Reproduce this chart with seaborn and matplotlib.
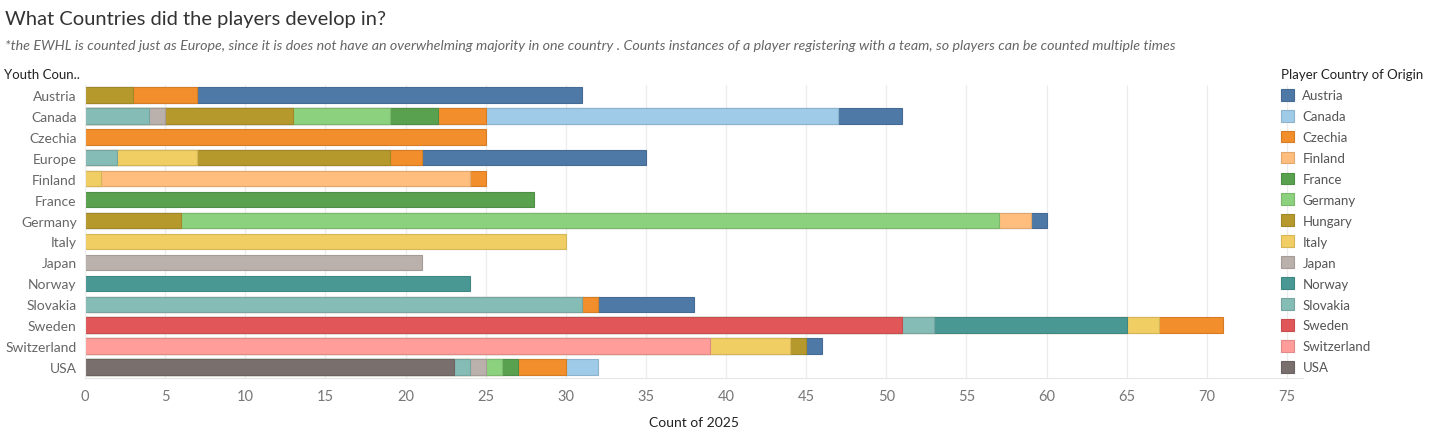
import numpy as np
import pandas as pd
import matplotlib
matplotlib.use('Agg')
import matplotlib.pyplot as plt
import matplotlib.colors as mcolors
from matplotlib.patches import Patch
import seaborn as sns

# youth country (rows)
youth = ['Austria', 'Canada', 'Czechia', 'Europe', 'Finland', 'France', 'Germany',
         'Italy', 'Japan', 'Norway', 'Slovakia', 'Sweden', 'Switzerland', 'USA']

# player country of origin -> count per youth country (same order as youth)
austria     = [24, 4, 0, 14, 0, 0, 1, 0, 0, 0, 6, 0, 1, 0]
canada      = [0, 22, 0, 0, 0, 0, 0, 0, 0, 0, 0, 0, 0, 2]
czechia     = [4, 3, 25, 2, 1, 0, 0, 0, 0, 0, 1, 4, 0, 3]
finland     = [0, 0, 0, 0, 23, 0, 2, 0, 0, 0, 0, 0, 0, 0]
france      = [0, 3, 0, 0, 0, 28, 0, 0, 0, 0, 0, 0, 0, 1]
germany     = [0, 6, 0, 0, 0, 0, 51, 0, 0, 0, 0, 0, 0, 1]
hungary     = [3, 8, 0, 12, 0, 0, 6, 0, 0, 0, 0, 0, 1, 0]
italy       = [0, 0, 0, 5, 1, 0, 0, 30, 0, 0, 0, 2, 5, 0]
japan       = [0, 1, 0, 0, 0, 0, 0, 0, 21, 0, 0, 0, 0, 1]
norway      = [0, 0, 0, 0, 0, 0, 0, 0, 0, 24, 0, 12, 0, 0]
slovakia    = [0, 4, 0, 2, 0, 0, 0, 0, 0, 0, 31, 2, 0, 1]
sweden      = [0, 0, 0, 0, 0, 0, 0, 0, 0, 0, 0, 51, 0, 0]
switzerland = [0, 0, 0, 0, 0, 0, 0, 0, 0, 0, 0, 0, 39, 0]
usa         = [0, 0, 0, 0, 0, 0, 0, 0, 0, 0, 0, 0, 0, 23]

origins = ['Austria', 'Canada', 'Czechia', 'Finland', 'France', 'Germany', 'Hungary',
           'Italy', 'Japan', 'Norway', 'Slovakia', 'Sweden', 'Switzerland', 'USA']
colors = ['#4E79A7', '#A0CBE8', '#F28E2B', '#FFBE7D', '#59A14F', '#8CD17D', '#B6992D',
          '#F1CE63', '#BAB0AC', '#499894', '#86BCB6', '#E15759', '#FF9D9A', '#79706E']
series = [austria, canada, czechia, finland, france, germany, hungary,
          italy, japan, norway, slovakia, sweden, switzerland, usa]

sns.set_style('white')
plt.rcParams['font.family'] = ['Lato', 'DejaVu Sans']

fig = plt.figure(figsize=(14.56, 4.39), dpi=100)
ax = fig.add_axes([85 / 1456, 1 - 378.5 / 439, 1218 / 1456, 293 / 439])


def darker(c, f=0.88):
    r, g, b = mcolors.to_rgb(c)
    return (r * f, g * f, b * f)


# stacking goes in reverse legend order (USA leftmost ... Austria rightmost)
stack = list(range(len(origins)))[::-1]
cum = np.zeros(len(youth))
cums = {}
for i in stack:
    cum = cum + np.array(series[i])
    cums[i] = cum.copy()

# draw widest cumulative first, then overlay the shorter ones
for i in stack[::-1]:
    df = pd.DataFrame({'youth': youth, 'cum': cums[i], 'seg': series[i]})
    df = df[df['seg'] > 0]
    if df.empty:
        continue
    sns.barplot(data=df, x='cum', y='youth', order=youth, color=colors[i],
                saturation=1, width=0.74, errorbar=None, orient='h',
                edgecolor=darker(colors[i]), linewidth=0.8, ax=ax)

ax.set_xlim(0, 76)
ax.set_xticks(range(0, 76, 5))
ax.set_ylim(13.5, -0.5)
ax.grid(axis='x', color='#ececec', linewidth=0.9)
ax.set_axisbelow(True)
for s in ['top', 'right']:
    ax.spines[s].set_visible(False)
ax.spines['left'].set_color('#eeeeee')
ax.spines['bottom'].set_color('#e6e6e6')
ax.tick_params(axis='y', length=0, labelsize=10, colors='#666666', pad=6)
ax.tick_params(axis='x', length=0, labelsize=10.5, colors='#777777', pad=8)
ax.set_ylabel('')
ax.set_xlabel('Count of 2025', fontsize=10, color='#222222', labelpad=10)

fig.text(5 / 1456, 1 - 20 / 439, 'What Countries did the players develop in?',
         fontsize=14.5, color='#333333', va='center', ha='left')
fig.text(5 / 1456, 1 - 46 / 439,
         '*the EWHL is counted just as Europe, since it is does not have an overwhelming '
         'majority in one country . Counts instances of a player registering with a team, '
         'so players can be counted multiple times',
         fontsize=10.25, style='italic', color='#666666', va='center', ha='left')
fig.text(4 / 1456, 1 - 75 / 439, 'Youth Coun..', fontsize=9.5, color='#222222',
         va='center', ha='left')

handles = [Patch(facecolor=c, edgecolor=darker(c), linewidth=0.8) for c in colors]
leg = fig.legend(handles, origins, loc='upper left',
                 bbox_to_anchor=(1276 / 1456, 1 - 64 / 439), frameon=False,
                 title='Player Country of Origin', fontsize=9.5, title_fontsize=9.5,
                 handlelength=1.0, handleheight=1.0, labelspacing=0.645,
                 handletextpad=0.6, alignment='left', borderaxespad=0)
plt.setp(leg.get_texts(), color='#555555')
leg.get_title().set_color('#222222')

fig.savefig('out.png', dpi=100)
